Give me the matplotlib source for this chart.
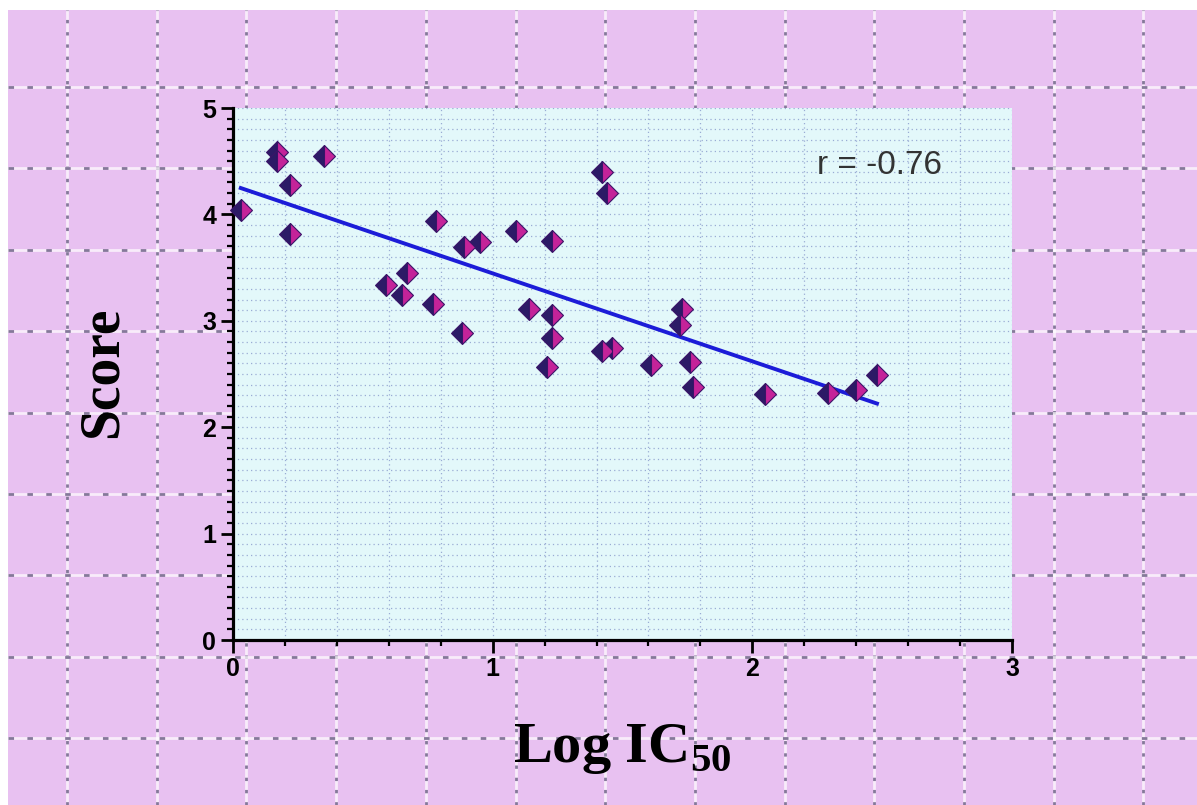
import numpy as np
import matplotlib
matplotlib.use('Agg')
import matplotlib.pyplot as plt
from matplotlib.ticker import MultipleLocator

# valores
log_ic50 = [0.03, 0.17, 0.17, 0.22, 0.22, 0.35, 0.59, 0.65, 0.67, 0.77, 0.78,
            0.88, 0.89, 0.95, 1.09, 1.14, 1.21, 1.23, 1.23, 1.23, 1.42, 1.44,
            1.42, 1.46, 1.61, 1.73, 1.72, 1.76, 1.77, 2.05, 2.29, 2.40, 2.48]
score = [4.04, 4.59, 4.50, 4.28, 3.82, 4.55, 3.34, 3.24, 3.45, 3.16, 3.94,
         2.89, 3.69, 3.74, 3.84, 3.11, 2.57, 3.75, 3.05, 2.84, 4.40, 4.20,
         2.72, 2.74, 2.58, 3.11, 2.96, 2.61, 2.38, 2.31, 2.32, 2.35, 2.49]
r_label = 'r = -0.76'
x_ticks = [0, 1, 2, 3]
y_ticks = [0, 1, 2, 3, 4, 5]

W, H = 1197, 805
fig = plt.figure(figsize=(W/100, H/100), dpi=100, facecolor='white')

# fondo rosa con rejilla punteada
bg = fig.add_axes([8/W, 0, 1-8/W, (H-10)/H])
bg.set_facecolor('#e8c1f1')
bg.set_xlim(8, W); bg.set_ylim(H, 10)
bg.set_xticks([]); bg.set_yticks([])
for s in bg.spines.values(): s.set_visible(False)
for gx in np.arange(67, W, 89.7):
    bg.axvline(gx, color='white', lw=2.0, alpha=0.7)
    bg.axvline(gx, color='#85799a', lw=2.0, ls=(0, (1.2, 3.2)))
for gy in np.arange(87, H, 81.4):
    bg.axhline(gy, color='white', lw=2.0, alpha=0.7)
    bg.axhline(gy, color='#85799a', lw=2.0, ls=(0, (2, 4.8)))

# grafico principal
ax = fig.add_axes([233/W, 1-640/H, (1012-233)/W, (640-108)/H])
ax.set_facecolor('#e3f8fa')
ax.set_xlim(0, 3); ax.set_ylim(0, 5)
ax.set_xticks(x_ticks); ax.set_yticks(y_ticks)
ax.xaxis.set_minor_locator(MultipleLocator(0.2))
ax.yaxis.set_minor_locator(MultipleLocator(0.1))
ax.grid(which='both', color='#9aacd4', ls=(0, (1, 2.5)), lw=0.9)
ax.set_axisbelow(True)
ax.spines['top'].set_visible(False); ax.spines['right'].set_visible(False)
ax.spines['left'].set_linewidth(2.3); ax.spines['bottom'].set_linewidth(2.3)
ax.tick_params(which='major', length=9, width=2, direction='out', pad=3)
ax.tick_params(which='minor', length=4, width=1.6, direction='out')
for lab in ax.get_xticklabels() + ax.get_yticklabels():
    lab.set_fontsize(18); lab.set_fontweight('bold'); lab.set_family('Liberation Sans')

x = np.array(log_ic50); y = np.array(score)
m, b = np.polyfit(x, y, 1)
xl = np.array([x.min(), x.max()])
ax.plot(xl, m*xl + b, color='#1c1cd8', lw=2.8, zorder=3)
ax.plot(x, y, ls='none', marker='D', markersize=11.5, fillstyle='left',
        markerfacecolor='#2c1a66', markerfacecoloralt='#c42399',
        markeredgecolor='#3a1468', markeredgewidth=0.8, zorder=4, clip_on=False)

ax.text(2.25, 4.38, r_label, fontsize=24, color='#333333', family='Liberation Sans')

plt.rcParams['mathtext.fontset'] = 'custom'
plt.rcParams['mathtext.bf'] = 'Liberation Serif:bold'
plt.rcParams['mathtext.rm'] = 'Liberation Serif:bold'
fig.text(103/W, 1-372/H, 'Score', rotation=90, ha='center', va='center',
         fontsize=40, fontweight='bold', family='Liberation Serif')
fig.text(513/W, 1-762/H, r'Log IC$_{\mathbf{50}}$', ha='left', va='baseline',
         fontsize=42, fontweight='bold', family='Liberation Serif')

fig.savefig('out.png', dpi=100, facecolor='white')
